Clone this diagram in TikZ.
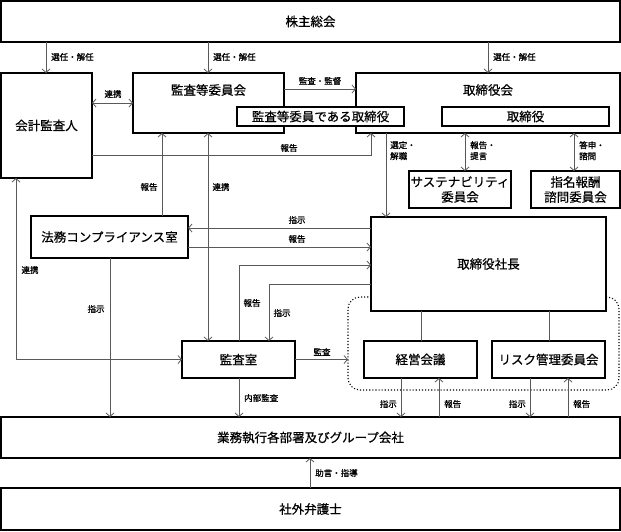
\documentclass[tikz,border=0pt]{standalone}
\usepackage{fontspec}
\setmainfont{Noto Sans CJK JP}[FakeBold=0.6]
\newfontfamily\lblfont{Noto Sans CJK JP}[FakeBold=1.2]
\usetikzlibrary{arrows.meta}
\begin{document}
\begin{tikzpicture}[x=1pt,y=-1pt,
 box/.style={draw=black,line width=1.3pt,fill=white,inner sep=0pt,outer sep=0pt,font=\fontsize{12.5}{15}\selectfont,align=center},
 ttl/.style={inner sep=0pt,font=\fontsize{12.5}{15}\selectfont},
 lbl/.style={font=\lblfont\fontsize{8.5}{11}\selectfont,inner sep=0pt,align=left},
 conn/.style={draw=black!65,line width=0.8pt},
 arr/.style={conn,-{Straight Barb[length=3.5pt,width=8pt]}},
 darr/.style={conn,{Straight Barb[length=3.5pt,width=8pt]}-{Straight Barb[length=3.5pt,width=8pt]}},
 grpbox/.style={draw=black,dotted,line width=1.1pt,rounded corners=12pt,inner sep=0pt,outer sep=0pt}
]
\useasboundingbox (0,0) rectangle (621,531);
\fill[white] (0,0) rectangle (621,531);

% group
\node[grpbox,minimum width=271pt,minimum height=93pt] (grp) at (483.5,343.5) {};

% boxes
\node[box,minimum width=619pt,minimum height=41pt] (sh) at (310.5,21.5) {株主総会};
\node[box,minimum width=91pt,minimum height=105pt] (kaikei) at (46.5,125.5) {会計監査人};
\node[box,minimum width=151pt,minimum height=60pt] (kiin) at (208.5,103) {};
\node[ttl] (kiinT) at (208.5,90) {監査等委員会};
\node[box,minimum width=264pt,minimum height=60pt] (tk) at (488,103) {};
\node[ttl] (tkT) at (488,90) {取締役会};
\node[box,minimum width=167pt,minimum height=19pt] (kdir) at (320.5,116.5) {監査等委員である取締役};
\node[box,minimum width=167pt,minimum height=19pt] (dir) at (525.5,116.5) {取締役};
\node[box,minimum width=102pt,minimum height=37pt] (sus) at (460,189.5) {サステナビリティ\\委員会};
\node[box,minimum width=89pt,minimum height=37pt] (shm) at (575.5,189.5) {指名報酬\\諮問委員会};
\node[box,minimum width=157pt,minimum height=42pt] (hm) at (109.5,237) {法務コンプライアンス室};
\node[box,minimum width=235pt,minimum height=94pt] (pres) at (488.5,264) {取締役社長};
\node[box,minimum width=113pt,minimum height=37pt] (ks) at (238.5,359.5) {監査室};
\node[box,minimum width=113pt,minimum height=37pt] (kk) at (420.5,359.5) {経営会議};
\node[box,minimum width=113pt,minimum height=37pt] (rk) at (548.5,359.5) {リスク管理委員会};
\node[box,minimum width=619pt,minimum height=41pt] (gy) at (310.5,437.5) {業務執行各部署及びグループ会社};
\node[box,minimum width=619pt,minimum height=42pt] (bg) at (310.5,509) {社外弁護士};

% from shareholders
\draw[arr] (46,0 |- sh.south) -- (46,0 |- kaikei.north);
\node[lbl,anchor=west] (l1) at (51,57) {選任・解任};
\draw[arr] (208,0 |- sh.south) -- (208,0 |- kiin.north);
\node[lbl,anchor=west] (l2) at (213,57) {選任・解任};
\draw[arr] (488,0 |- sh.south) -- (488,0 |- tk.north);
\node[lbl,anchor=west] (l3) at (493,57) {選任・解任};

% top row
\draw[darr] (kaikei.east |- 0,103) -- (kiin.west |- 0,103);
\node[lbl] (l4) at (113,94) {連携};
\draw[arr] (kiin.east |- 0,89) -- (tk.west |- 0,89);
\node[lbl] (l5) at (320,81) {監査・監督};
\draw[arr] (kaikei.east |- 0,155) -- (371,155) -- (371,0 |- tk.south);
\node[lbl] (l6) at (289,148) {報告};
\draw[arr] (386,0 |- tk.south) -- (386,0 |- pres.north);
\node[lbl,anchor=north west] (l7) at (390,141) {選定・\\解職};
\draw[darr] (465,0 |- tk.south) -- (465,0 |- sus.north);
\node[lbl,anchor=north west] (l8) at (470,141) {報告・\\提言};
\draw[darr] (574,0 |- tk.south) -- (574,0 |- shm.north);
\node[lbl,anchor=north west] (l9) at (579,141) {答申・\\諮問};

% middle
\draw[arr] (162,0 |- hm.north) -- (162,0 |- kiin.south);
\node[lbl] (l10) at (149,187) {報告};
\draw[darr] (208,0 |- kiin.south) -- (208,0 |- ks.north);
\node[lbl] (l11) at (221,187) {連携};
\draw[arr] (pres.west |- 0,228) -- (hm.east |- 0,228);
\node[lbl] (l12) at (297,220) {指示};
\draw[arr] (hm.east |- 0,247) -- (pres.west |- 0,247);
\node[lbl] (l13) at (297,239) {報告};
\draw[darr] (16,0 |- kaikei.south) -- (16,359.5) -- (ks.west);
\node[lbl] (l14) at (30,270) {連携};
\draw[arr] (110,0 |- hm.south) -- (110,0 |- gy.north);
\node[lbl] (l15) at (96,309) {指示};
\draw[arr] (239,0 |- ks.north) -- (239,265) -- (pres.west |- 0,265);
\node[lbl] (l16) at (252,303) {報告};
\draw[arr] (pres.west |- 0,284) -- (269,284) -- (269,0 |- ks.north);
\node[lbl] (l17) at (282,313) {指示};
\draw[arr] (ks.east) -- (ks.east -| grp.west);
\node[lbl] (l18) at (322,352) {監査};
\draw[arr] (239,0 |- ks.south) -- (239,0 |- gy.north);
\node[lbl,anchor=west] (l19) at (244,398) {内部監査};

% president to committees
\draw[conn] (421,0 |- pres.south) -- (421,0 |- kk.north);
\draw[conn] (549,0 |- pres.south) -- (549,0 |- rk.north);

% committees to business
\draw[arr] (401,0 |- kk.south) -- (401,0 |- gy.north);
\node[lbl,anchor=east] (l20) at (397,404) {指示};
\draw[arr] (439,0 |- gy.north) -- (439,0 |- kk.south);
\node[lbl,anchor=west] (l21) at (444,404) {報告};
\draw[arr] (530,0 |- rk.south) -- (530,0 |- gy.north);
\node[lbl,anchor=east] (l22) at (526,404) {指示};
\draw[arr] (568,0 |- gy.north) -- (568,0 |- rk.south);
\node[lbl,anchor=west] (l23) at (573,404) {報告};

% lawyer
\draw[arr] (310,0 |- bg.north) -- (310,0 |- gy.south);
\node[lbl,anchor=west] (l24) at (315,473) {助言・指導};
\end{tikzpicture}
\end{document}
